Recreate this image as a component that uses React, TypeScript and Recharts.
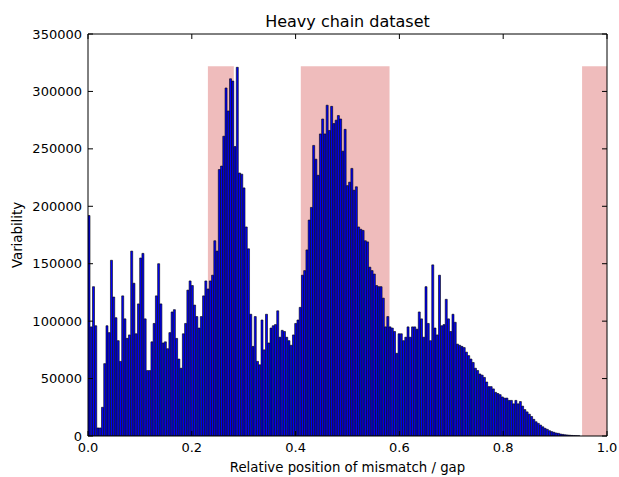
import { BarChart, Bar, XAxis, YAxis, ReferenceArea } from 'recharts';

// histogram heights, in thousands, read bar by bar from left to right
const countsLow = [
  192, 95, 130, 96, 7, 7, 25, 63, 96, 90, 153, 121, 103, 83, 65, 122, 102, 85, 88, 161,
  133, 89, 115, 155, 159, 102, 57, 57, 82, 98, 122, 150, 115, 81, 82, 76, 90, 108,
];
const countsFirstPeak = [
  110, 85, 67, 59, 89, 98, 127, 135, 131, 114, 104, 94, 104, 122, 135, 128, 135, 140, 170, 161,
  232, 235, 261, 303, 283, 311, 309, 252, 321, 229, 228, 216, 182, 163, 106, 78, 104, 65, 62,
];
const countsSecondPeak = [
  101, 75, 106, 81, 94, 96, 97, 109, 86, 92, 91, 86, 83, 79, 88, 98, 101, 112, 140, 144,
  162, 188, 199, 253, 241, 227, 263, 276, 263, 288, 266, 287, 272, 275, 279, 276, 248, 267,
];
const countsDecline = [
  218, 221, 233, 214, 217, 182, 180, 179, 170, 169, 147, 144, 141, 131, 130, 130, 120, 95, 104, 95,
  94, 91, 72, 89, 89, 83, 86, 95, 86, 95, 95, 93, 108, 102, 86, 130, 98, 83, 149,
];
const countsTail = [
  94, 88, 140, 96, 97, 119, 102, 91, 106, 99, 80, 79, 78, 77, 73, 70, 67, 64, 59, 57,
  54, 53, 51, 47, 43, 43, 41, 38, 37, 36, 34, 33, 33, 31, 31, 28, 31, 28, 30, 26,
  23, 21, 19, 17, 14.5, 12.4, 11, 9.5, 8, 6.7, 5.8, 4.6, 3.8, 3.2, 2.6, 2.3, 1.7, 1.4, 1.1, 0.9,
  0.7, 0.5, 0.4, 0.3, 0.2,
];
const totalBins = 231; // bins spanning 0..1, empty past ~0.95

const shadedRanges = [
  [0.231, 0.281],
  [0.41, 0.581],
  [0.952, 1.0],
];
const shadeTop = 322000;

const xTicks = [0, 0.2, 0.4, 0.6, 0.8, 1.0];
const yTicks = [0, 50000, 100000, 150000, 200000, 250000, 300000, 350000];

const counts = [...countsLow, ...countsFirstPeak, ...countsSecondPeak, ...countsDecline, ...countsTail];
const data = counts.map((c, i) => ({
  x: (i + 0.5) / totalBins,
  value: c * 1000,
}));

const FONT = 'DejaVu Sans';
const TICK_LEN = 5;

const LeftTick = ({ x, y, payload }: any) => (
  <g>
    <text x={x} y={y} dy={4.5} textAnchor="end" fontSize={13} fontFamily={FONT} fill="#000">
      {payload.value}
    </text>
    <line x1={x + 6} x2={x + 6 + TICK_LEN} y1={y} y2={y} stroke="#000" />
  </g>
);

const RightTick = ({ x, y }: any) => <line x1={x} x2={x - TICK_LEN} y1={y} y2={y} stroke="#000" />;

const BottomTick = ({ x, y, payload }: any) => (
  <g>
    <text x={x} y={y} dy={9.5} textAnchor="middle" fontSize={13} fontFamily={FONT} fill="#000">
      {Number(payload.value).toFixed(1)}
    </text>
    <line x1={x} x2={x} y1={y - 6} y2={y - 6 - TICK_LEN} stroke="#000" />
  </g>
);

const TopTick = ({ x, y }: any) => <line x1={x} x2={x} y1={y} y2={y + TICK_LEN} stroke="#000" />;

export default function App() {
  return (
    <div style={{ position: 'absolute', left: 0, top: 0, width: 619, height: 477, fontFamily: FONT, background: '#fff' }}>
      <div style={{ position: 'absolute', left: 88, width: 519, top: 12, textAlign: 'center', fontSize: 16 }}>
        Heavy chain dataset
      </div>
      <div style={{ position: 'absolute', left: 88, width: 519, top: 460, textAlign: 'center', fontSize: 13.3 }}>
        Relative position of mismatch / gap
      </div>
      <div
        style={{
          position: 'absolute',
          left: 17,
          top: 235,
          transform: 'translate(-50%, -50%) rotate(-90deg)',
          whiteSpace: 'nowrap',
          fontSize: 13.3,
        }}
      >
        Variability
      </div>
      <BarChart
        width={619}
        height={477}
        data={data}
        margin={{ top: 33, right: 11, bottom: 11, left: 28 }}
        barCategoryGap={0}
        barGap={0}
      >
        <XAxis
          dataKey="x"
          type="number"
          domain={[0, 1]}
          ticks={xTicks}
          interval={0}
          allowDataOverflow
          height={30}
          tickSize={0}
          tickMargin={6}
          tickLine={false}
          tick={<BottomTick />}
          axisLine={{ stroke: '#000' }}
        />
        <XAxis
          xAxisId="top"
          dataKey="x"
          orientation="top"
          type="number"
          domain={[0, 1]}
          ticks={xTicks}
          interval={0}
          allowDataOverflow
          height={1}
          tickSize={0}
          tickMargin={0}
          tickLine={false}
          tick={<TopTick />}
          axisLine={{ stroke: '#000' }}
        />
        <YAxis
          type="number"
          domain={[0, 350000]}
          ticks={yTicks}
          interval={0}
          allowDataOverflow
          width={60}
          tickSize={0}
          tickMargin={6}
          tickLine={false}
          tick={<LeftTick />}
          axisLine={{ stroke: '#000' }}
        />
        <YAxis
          yAxisId="right"
          dataKey="value"
          orientation="right"
          type="number"
          domain={[0, 350000]}
          ticks={yTicks}
          interval={0}
          allowDataOverflow
          width={1}
          tickSize={0}
          tickMargin={0}
          tickLine={false}
          tick={<RightTick />}
          axisLine={{ stroke: '#000' }}
        />
        {shadedRanges.map(([a, b]) => (
          <ReferenceArea
            key={a}
            x1={a}
            x2={b}
            y1={0}
            y2={shadeTop}
            fill="#efbcbc"
            fillOpacity={1}
            stroke="none"
          />
        ))}
        <Bar
          dataKey="value"
          fill="#0000ff"
          stroke="#000"
          strokeWidth={0.6}
          isAnimationActive={false}
        />
      </BarChart>
    </div>
  );
}
